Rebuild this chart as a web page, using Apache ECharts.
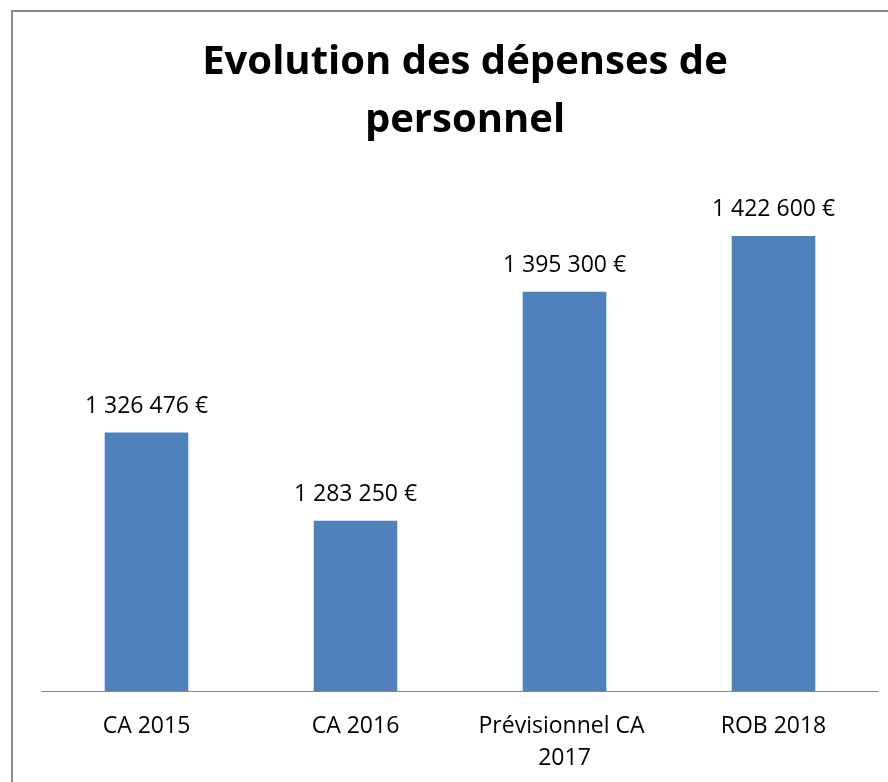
<!DOCTYPE html>
<html><head><meta charset="utf-8">
<script src="https://cdn.jsdelivr.net/npm/echarts@6/dist/echarts.min.js"></script>
<style>html,body{margin:0;padding:0;background:#fff}#c{width:888px;height:782px}</style>
</head><body><div id="c"></div>
<script>
const titleText = "Evolution des dépenses de\npersonnel";
const categories = ["CA 2015", "CA 2016", "Prévisionnel CA 2017", "ROB 2018"];
const values = [1326476, 1283250, 1395300, 1422600];
const yMin = 1200000, yMax = 1450000;

function fmtEuro(v){
  return String(v).replace(/\B(?=(\d{3})+(?!\d))/g, " ") + " €";
}
const chart = echarts.init(document.getElementById('c'), null, {renderer:'canvas'});
chart.setOption({
  animation:false,
  backgroundColor:'#fff',
  graphic:[{type:'rect',shape:{x:12,y:11,width:900,height:800},style:{fill:'none',stroke:'#8a8a8a',lineWidth:2},z:-1}],
  title:{text:titleText,left:460,top:29,textAlign:'center',
    textStyle:{fontFamily:'Open Sans',fontWeight:'bold',fontSize:40,lineHeight:58,color:'#000'}},
  grid:{left:42,right:10,top:180,bottom:91,containLabel:false},
  xAxis:{type:'category',data:categories,
    axisLine:{lineStyle:{color:'#868686',width:1}},axisTick:{show:false},
    axisLabel:{interval:0,margin:19,color:'#000',fontFamily:'Open Sans',fontSize:23,lineHeight:32,width:200,overflow:'break'}},
  yAxis:{type:'value',min:yMin,max:yMax,show:false,splitLine:{show:false}},
  series:[{type:'bar',data:values,barWidth:'40%',itemStyle:{color:'#4F81BD'},
    label:{show:true,position:'top',distance:15,color:'#000',fontFamily:'Open Sans',fontSize:23,
      formatter:p=>fmtEuro(p.value)}}]
});
</script></body></html>
